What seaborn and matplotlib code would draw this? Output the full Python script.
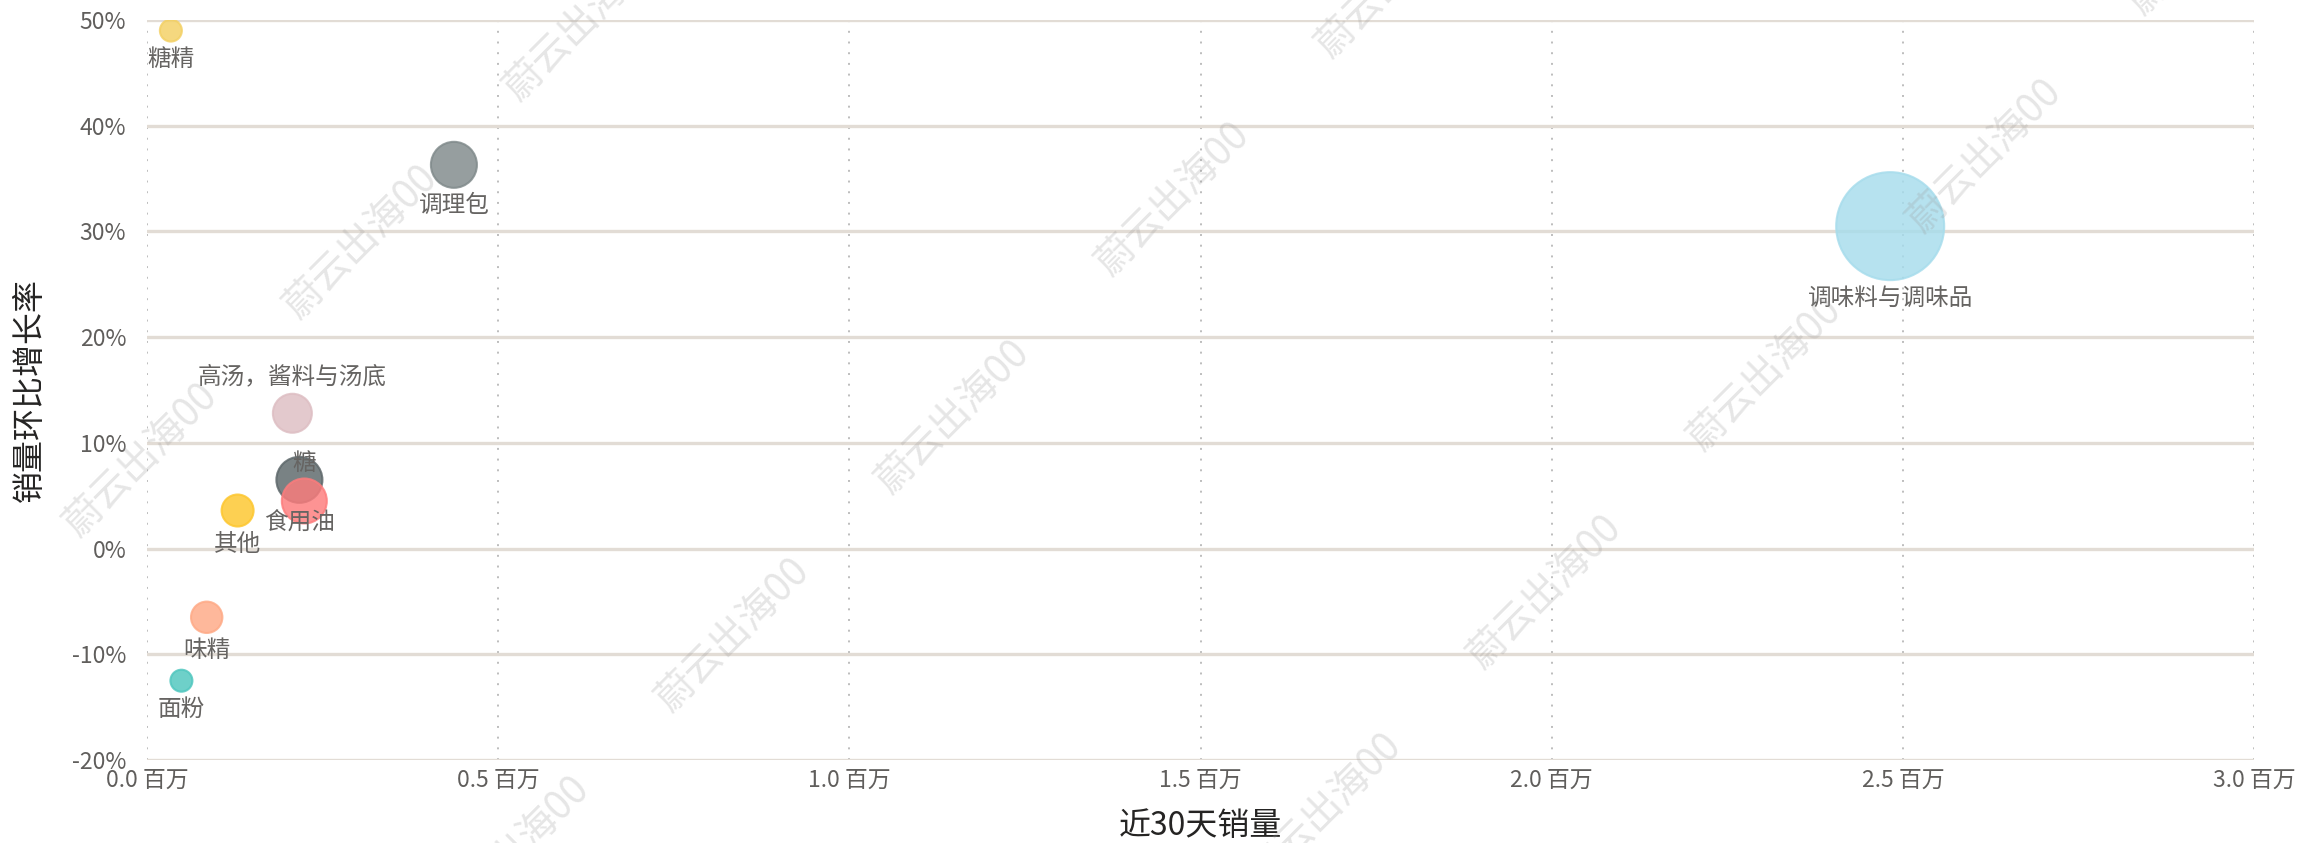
import matplotlib
matplotlib.use("Agg")
import matplotlib.pyplot as plt
import seaborn as sns
import pandas as pd
from matplotlib.ticker import FuncFormatter, PercentFormatter

# ---------------- data ----------------
categories = ["糖精", "调理包", "高汤，酱料与汤底", "糖", "食用油", "其他", "味精", "面粉", "调味料与调味品"]
sales_30d = [34000, 437000, 207000, 217000, 224000, 129000, 85000, 49000, 2482000]   # 近30天销量
growth_mom = [0.490, 0.363, 0.128, 0.065, 0.045, 0.036, -0.065, -0.125, 0.305]       # 销量环比增长率
bubble_value = [1.21, 5.29, 3.80, 5.29, 5.06, 2.56, 2.46, 1.21, 29.16]               # bubble size measure
x_ticks = [0.0, 0.5, 1.0, 1.5, 2.0, 2.5, 3.0]
y_ticks = [-0.2, -0.1, 0.0, 0.1, 0.2, 0.3, 0.4, 0.5]

colors = {
    "糖精": "#F3D063",
    "调理包": "#7F898A",
    "高汤，酱料与汤底": "#DDBDC2",
    "糖": "#5C6669",
    "食用油": "#FD7C7C",
    "其他": "#FDC62C",
    "味精": "#FEA985",
    "面粉": "#4EC6BE",
    "调味料与调味品": "#A6DCEC",
}

df = pd.DataFrame({"类别": categories, "近30天销量": sales_30d,
                   "销量环比增长率": growth_mom, "size": bubble_value})

# ---------------- style ----------------
sns.set_theme(style="white")
plt.rcParams["font.family"] = ["Noto Sans CJK SC", "DejaVu Sans"]
plt.rcParams["axes.unicode_minus"] = False

W, H = 2299, 843
fig = plt.figure(figsize=(W / 100, H / 100), dpi=100)
ax = fig.add_axes([147 / W, 1 - 760 / H, (2254 - 147) / W, (760 - 20) / H])

K = 207.36  # marker area per bubble_value unit (pt^2)
vmin, vmax = min(bubble_value), max(bubble_value)
sns.scatterplot(data=df, x="近30天销量", y="销量环比增长率", hue="类别", palette=colors,
                size="size", sizes=(K * vmin, K * vmax), size_norm=(vmin, vmax),
                alpha=0.82, linewidth=1.5, legend=False, ax=ax, zorder=3)
coll = ax.collections[-1]
coll.set_edgecolor([colors[c] for c in categories])

ax.set_xlim(0, 3.0e6)
ax.set_ylim(-0.2, 0.5)
ax.set_xticks([t * 1e6 for t in x_ticks])
ax.set_yticks(y_ticks)
ax.xaxis.set_major_formatter(FuncFormatter(lambda v, p: f"{v / 1e6:.1f} 百万"))
ax.yaxis.set_major_formatter(PercentFormatter(1.0, decimals=0))

for s in ax.spines.values():
    s.set_visible(False)
ax.tick_params(axis="both", length=0, labelsize=16.5, labelcolor="#605E5C")
ax.tick_params(axis="y", pad=15)
ax.tick_params(axis="x", pad=6)

ax.grid(False)
for t in y_ticks:
    ax.axhline(t, color="#E2DCD5", lw=2.4, zorder=1)
for t in x_ticks:
    ax.axvline(t * 1e6, color="#BDBDBD", lw=1.4, ls=(0, (1, 4.5)), zorder=0.5)

ax.set_xlabel("近30天销量", fontsize=23, color="#252423")
ax.set_ylabel("销量环比增长率", fontsize=23, color="#252423")
ax.xaxis.label.set_va("center")
ax.xaxis.set_label_coords(0.5, (760 - 826) / 740)
ax.yaxis.label.set_va("center")
ax.yaxis.set_label_coords((30 - 147) / 2107, 0.5)

# ---------------- data labels ----------------
px2pt = 0.72
radius_px = {c: (K * v) ** 0.5 / 2 / px2pt for c, v in zip(categories, bubble_value)}
label_offset_px = {"高汤，酱料与汤底": (0, -(radius_px["高汤，酱料与汤底"] + 17)),
                   "糖": (5, -16), "食用油": (-5, 21)}
for c, xv, yv in zip(categories, sales_30d, growth_mom):
    dx, dy = label_offset_px.get(c, (0, radius_px[c] + 18))
    ax.annotate(c, (xv, yv), xytext=(dx * px2pt, -dy * px2pt), textcoords="offset points",
                ha="center", va="center", fontsize=17, color="#666462", zorder=5)

# ---------------- watermark ----------------
base = (141, 460)
a = (592, 175)
b = (220, -218)
for i in range(-2, 3):
    for j in range(-3, 7):
        cx = base[0] + i * a[0] + j * b[0]
        cy = base[1] + i * a[1] + j * b[1]
        if -250 < cx < W + 250 and -200 < cy < H + 200:
            fig.text(cx / W, 1 - cy / H, "蔚云出海00", rotation=45, rotation_mode="anchor",
                     ha="center", va="center", fontsize=28, color="#9A9A9A", alpha=0.25,
                     zorder=10)

fig.savefig("out.png", dpi=100)
